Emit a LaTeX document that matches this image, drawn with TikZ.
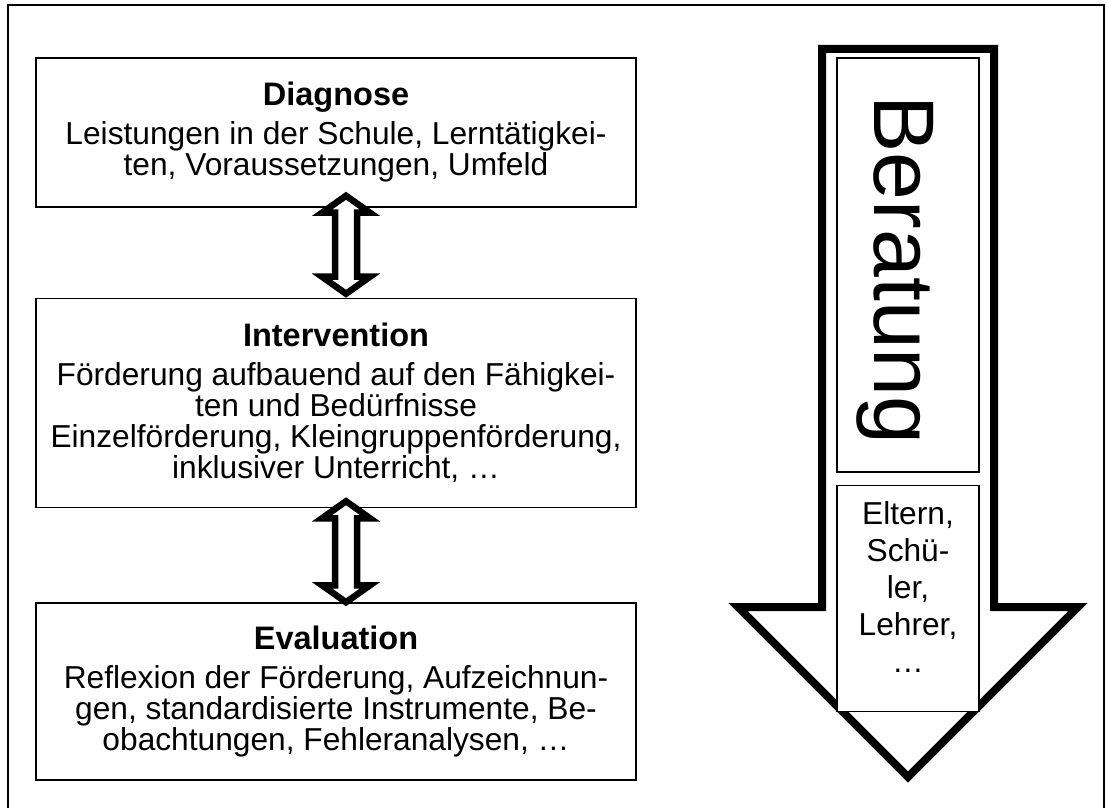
\documentclass[tikz,border=0pt]{standalone}
\usepackage{fontspec}
\setmainfont{Liberation Sans}
\usetikzlibrary{positioning,calc}
\tikzset{
  blk/.style={draw, line width=0.75pt, fill=white, align=center, inner sep=2pt,
              font=\fontsize{15.85pt}{15.5pt}\selectfont},
  stagebox/.style={blk, minimum width=300pt},
  side/.style={blk, line width=0.6pt},
  twoway/.style={draw, fill=white, line width=3.25pt, miter limit=10},
  bigarrow/.style={draw, fill=white, line width=4pt},
  frame/.style={draw, line width=1pt},
}
\newcommand{\ttl}[1]{{\fontsize{16.25pt}{19.5pt}\selectfont\bfseries #1}}
% hollow double arrow between two tip points
\newcommand{\dblarrow}[2]{%
  \path[twoway] let \p1=(#1), \p2=(#2) in
    (\x1,\y1) -- (\x1+12pt,\y1-8.5pt) -- (\x1+5.5pt,\y1-8.5pt)
    -- (\x1+5.5pt,\y2+8.5pt) -- (\x1+12pt,\y2+8.5pt) -- (\x1,\y2)
    -- (\x1-12pt,\y2+8.5pt) -- (\x1-5.5pt,\y2+8.5pt)
    -- (\x1-5.5pt,\y1-8.5pt) -- (\x1-12pt,\y1-8.5pt) -- cycle;}

\begin{document}
\begin{tikzpicture}[x=0.5pt, y=-0.5pt]
\useasboundingbox (0,0) rectangle (1106,807);

%% ── frame ────────────────────────────────────────────────────────────────
\draw[frame] (8,5) rectangle (1104,815);

%% ── the three stages ─────────────────────────────────────────────────────
\node[stagebox, minimum height=74.5pt] (diag) at (336,132.5)
  {\ttl{Diagnose}\\[4pt]
   Leistungen in der Schule, Lerntätigkei-\\
   ten, Voraussetzungen, Umfeld};
\node[stagebox, minimum height=104.5pt, below=45pt of diag] (interv)
  {\ttl{Intervention}\\[4pt]
   Förderung aufbauend auf den Fähigkei-\\
   ten und Bedürfnisse\\
   Einzelförderung, Kleingruppenförderung,\\
   inklusiver Unterricht, …};
\node[stagebox, minimum height=88.5pt, below=47pt of interv] (eval)
  {\ttl{Evaluation}\\[4pt]
   Reflexion der Förderung, Aufzeichnun-\\
   gen, standardisierte Instrumente, Be-\\
   obachtungen, Fehleranalysen, …};

\coordinate (d1) at ([xshift=5pt, yshift=6pt]diag.south);
\coordinate (i1) at ([xshift=5pt, yshift=2pt]interv.north);
\coordinate (i2) at ([xshift=5pt, yshift=3.5pt]interv.south);
\coordinate (e1) at ([xshift=5pt]eval.north);
\dblarrow{d1}{i1}
\dblarrow{i2}{e1}

%% ── Beratung, running down the side ──────────────────────────────────────
\path[bigarrow] (822,49) -- (994,49) -- (994,607) -- (1078,607)
  -- (908,777) -- (738,607) -- (822,607) -- cycle;

\node[side, rotate=-90, minimum width=207pt, minimum height=71pt,
      text height=42pt, font=\fontsize{43pt}{43pt}\selectfont] (ber)
  at (908,265) {\hspace*{5pt}Beratung};
\node[side, minimum width=71pt, minimum height=113pt, text depth=11pt,
      font=\fontsize{15.85pt}{18.5pt}\selectfont,
      below=6pt of ber.east] (who)
  {Eltern,\\ Schü-\\ ler,\\ Lehrer,\\ …};

\end{tikzpicture}
\end{document}
